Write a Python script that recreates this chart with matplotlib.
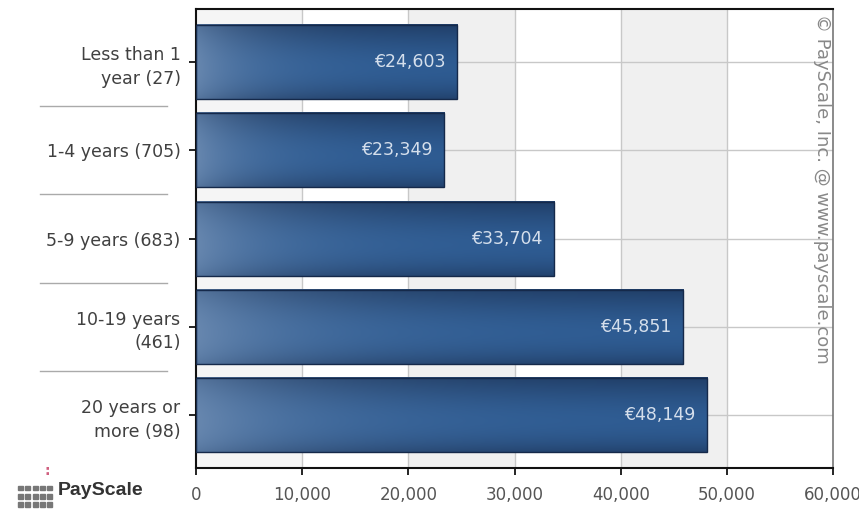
import numpy as np
import matplotlib.pyplot as plt
from matplotlib.colors import to_rgb

categories = ['Less than 1\nyear (27)', '1-4 years (705)', '5-9 years (683)',
              '10-19 years\n(461)', '20 years or\nmore (98)']
salaries = [24603, 23349, 33704, 45851, 48149]
xticks = [0, 10000, 20000, 30000, 40000, 50000, 60000]

fig = plt.figure(figsize=(8.59, 5.13), dpi=100)
ax = fig.add_axes([0.228, 0.088, 0.742, 0.894])

# alternating background bands
for i, x0 in enumerate(xticks[:-1]):
    if i % 2 == 0:
        ax.axvspan(x0, x0 + 10000, color='#f0f0f0' if i else '#f5f5f5', zorder=0, lw=0)
for x in xticks[1:-1]:
    ax.axvline(x, color='#c8c8c8', lw=1, zorder=1)
for y in range(len(categories)):
    ax.axhline(y, color='#c8c8c8', lw=1, zorder=1)

# gradient fill for the bars
navy = np.array(to_rgb('#1b3459'))
blue = np.array(to_rgb('#2f5f98'))
steel = np.array(to_rgb('#6a89b0'))
hh = np.linspace(0, 1, 300)
vv = np.linspace(0, 1, 60)[:, None]
vert = np.clip(np.sin(np.pi * (vv * 0.9 + 0.05)) ** 0.8 * (0.55 + 0.45 * vv) + 0.1, 0, 1)
horiz = np.exp(-hh / 0.25)[None, :]

h = 0.84
for i, val in enumerate(salaries):
    img = navy + (blue - navy) * vert[..., None]
    img = img + (steel - img) * (horiz * (0.6 + 0.4 * vert))[..., None]
    ax.imshow(np.clip(img, 0, 1), extent=(0, val, i + h / 2, i - h / 2),
              aspect='auto', zorder=2, interpolation='bilinear')
    ax.add_patch(plt.Rectangle((0, i - h / 2), val, h, fill=False,
                               ec='#15294a', lw=1, zorder=3))
    ax.text(val - 1100, i, '€{:,}'.format(val), ha='right', va='center',
            color='#d5dfec', fontsize=12.5, zorder=4)

ax.set_xlim(0, 60000)
ax.set_ylim(len(categories) - 0.4, -0.6)

ax.set_yticks(range(len(categories)))
ax.set_yticklabels(categories, fontsize=12.5, color='#404040', linespacing=1.4)
ax.set_xticks(xticks)
ax.set_xticklabels(['{:,}'.format(x) for x in xticks], fontsize=12, color='#555555')
ax.tick_params(axis='y', length=5, width=1.2, pad=6)
ax.tick_params(axis='x', length=5, width=1.2, pad=8)

for s in ['left', 'bottom', 'top']:
    ax.spines[s].set_color('#111111')
    ax.spines[s].set_linewidth(1.5)
ax.spines['right'].set_color('#777777')
ax.spines['right'].set_linewidth(1.2)

# separators between category labels
for k in range(len(categories) - 1):
    ax.plot([-0.245, -0.045], [k + 0.5, k + 0.5], color='#aaaaaa', lw=1,
            transform=ax.get_yaxis_transform(), clip_on=False)

ax.text(0.983, 0.99, '© PayScale, Inc. @ www.payscale.com', rotation=-90,
        ha='center', va='top', transform=ax.transAxes, fontsize=13,
        color='#888888', zorder=5)

# logo
for col in range(5):
    for row in range(3):
        fig.patches.append(plt.Rectangle((0.021 + col * 0.0085, 0.012 + row * 0.016),
                                         0.006, 0.009, transform=fig.transFigure,
                                         color='#777777', figure=fig))
fig.text(0.052, 0.075, ':', color='#d06080', fontsize=10, fontweight='bold')
fig.text(0.067, 0.036, 'PayScale', fontsize=14, fontweight='bold', color='#333333',
         family='Liberation Sans')

fig.savefig('out.png', dpi=100)
